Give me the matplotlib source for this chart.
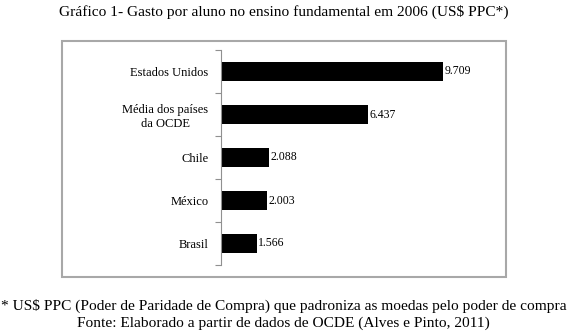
import matplotlib.pyplot as plt
from matplotlib.patches import Rectangle

# Dados (US$ PPC, 2006)
paises = ["Estados Unidos", "Média dos países\nda OCDE", "Chile", "México", "Brasil"]
gastos = [9709, 6437, 2088, 2003, 1566]
rotulos = ["9.709", "6.437", "2.088", "2.003", "1.566"]

plt.rcParams['font.family'] = ['Liberation Serif', 'DejaVu Serif']

fig = plt.figure(figsize=(5.67, 3.36), dpi=100)

# Moldura cinza em volta do gráfico
moldura = Rectangle((62 / 567, 1 - 277 / 336), (506 - 62) / 567, (277 - 41) / 336,
                    transform=fig.transFigure, fill=False, edgecolor='#a8a8a8', linewidth=1.5)
fig.patches.append(moldura)

ax = fig.add_axes([221 / 567, 1 - 265 / 336, (480 - 221) / 567, (265 - 50) / 336])

pos = list(range(len(paises)))[::-1]
ax.barh(pos, gastos, height=0.42, color='black')
for p, g, r in zip(pos, gastos, rotulos):
    ax.text(g + 60, p, r, va='center', ha='left', fontsize=8.5)

ax.set_xlim(0, 9709 * (480 - 221) / (443 - 221))
ax.set_ylim(-0.5, 4.5)
ax.set_yticks([p - 0.5 for p in range(6)])
ax.set_yticklabels([])
ax.set_yticks(pos, minor=True)
ax.set_yticklabels(paises, minor=True, fontsize=9, ha='right', multialignment='center')
ax.tick_params(axis='y', which='minor', length=0, pad=9)
ax.tick_params(axis='y', which='major', length=4, color='#909090')
ax.set_xticks([])
for s in ['top', 'right', 'bottom']:
    ax.spines[s].set_visible(False)
ax.spines['left'].set_color('#909090')

fig.text(0.5, 1 - 12 / 336, "Gráfico 1- Gasto por aluno no ensino fundamental em 2006 (US$ PPC*)",
         ha='center', va='center', fontsize=11.1)
fig.text(0.5, 1 - 306 / 336, "* US$ PPC (Poder de Paridade de Compra) que padroniza as moedas pelo poder de compra",
         ha='center', va='center', fontsize=11.1)
fig.text(0.5, 1 - 323 / 336, "Fonte: Elaborado a partir de dados de OCDE (Alves e Pinto, 2011)",
         ha='center', va='center', fontsize=11.1)

fig.savefig("out.png", dpi=100)
